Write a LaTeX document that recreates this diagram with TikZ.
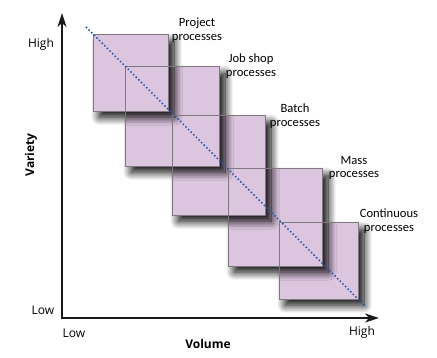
\documentclass[tikz,border=0pt]{standalone}
\usepackage{fontspec}
\setmainfont{Carlito}
\newfontfamily\axisfont{Open Sans}
\usetikzlibrary{shadows.blur,arrows.meta}
\definecolor{boxfill}{HTML}{DCC5DF}
\definecolor{boxline}{HTML}{7F787F}
\definecolor{diag}{HTML}{2A58A6}
\definecolor{axiscol}{HTML}{1A1A1A}
\tikzset{
  procfill/.style={fill=boxfill, draw=none, inner sep=0pt, anchor=north west,
    blur shadow={shadow xshift=6pt, shadow yshift=-6pt, shadow blur radius=8pt, shadow opacity=100, shadow blur steps=16}},
  procline/.style={draw=boxline, line width=1pt},
  axisline/.style={draw=axiscol, line width=1.8pt, -{Stealth[length=14pt,width=9pt,inset=4pt]}},
  proclabel/.style={align=center, font=\fontsize{12.6}{13.6}\selectfont, inner sep=0pt},
  ticklabel/.style={font=\axisfont\fontsize{12}{13}\selectfont, inner sep=0pt},
  axistitle/.style={font=\axisfont\bfseries\fontsize{12}{13}\selectfont, inner sep=0pt},
  diagline/.style={draw=diag, line width=1.5pt, dash pattern=on 1.5pt off 2.2pt},
}
\begin{document}
\begin{tikzpicture}[x=1pt,y=-1pt]
\useasboundingbox (0,0) rectangle (437,358);
% boxes: fills with shadows, last first
\node[procfill, minimum width=79pt, minimum height=76pt] (b5) at (279,223) {};
\node[procfill, minimum width=94pt, minimum height=97pt] (b4) at (228,169) {};
\node[procfill, minimum width=93pt, minimum height=99pt] (b3) at (172,116) {};
\node[procfill, minimum width=94pt, minimum height=99pt] (b2) at (125,67) {};
\node[procfill, minimum width=75pt, minimum height=76pt] (b1) at (93,35) {};
% borders
\foreach \b in {b1,b2,b3,b4,b5}
  \draw[procline] (\b.north west) rectangle (\b.south east);
% axes
\coordinate (o) at (62,318);
\coordinate (ytop) at (62,13);
\coordinate (xend) at (379,318);
\draw[axisline] (o) -- (ytop);
\draw[axisline] ([xshift=-0.9pt]o) -- (xend);
% diagonal
\coordinate (d1) at (86,27);
\coordinate (d2) at (366,307);
\draw[diagline] (d1) -- (d2);
% labels
\node[proclabel] (l1) at (197,30) {Project\\processes};
\node[proclabel] (l2) at (251,66) {Job shop\\processes};
\node[proclabel] (l3) at (295,116) {Batch\\processes};
\node[proclabel] (l4) at (354,168) {Mass\\processes};
\node[proclabel] (l5) at (389,221) {Continuous\\processes};
\node[ticklabel] (yh) at (41,44) {High};
\node[ticklabel] (yl) at (43,310) {Low};
\node[ticklabel] (xl) at (74,333) {Low};
\node[ticklabel] (xh) at (362,332) {High};
\node[axistitle] (xt) at (208,344) {Volume};
\node[axistitle, rotate=90] (yt) at (31,155) {Variety};
\end{tikzpicture}
\end{document}
